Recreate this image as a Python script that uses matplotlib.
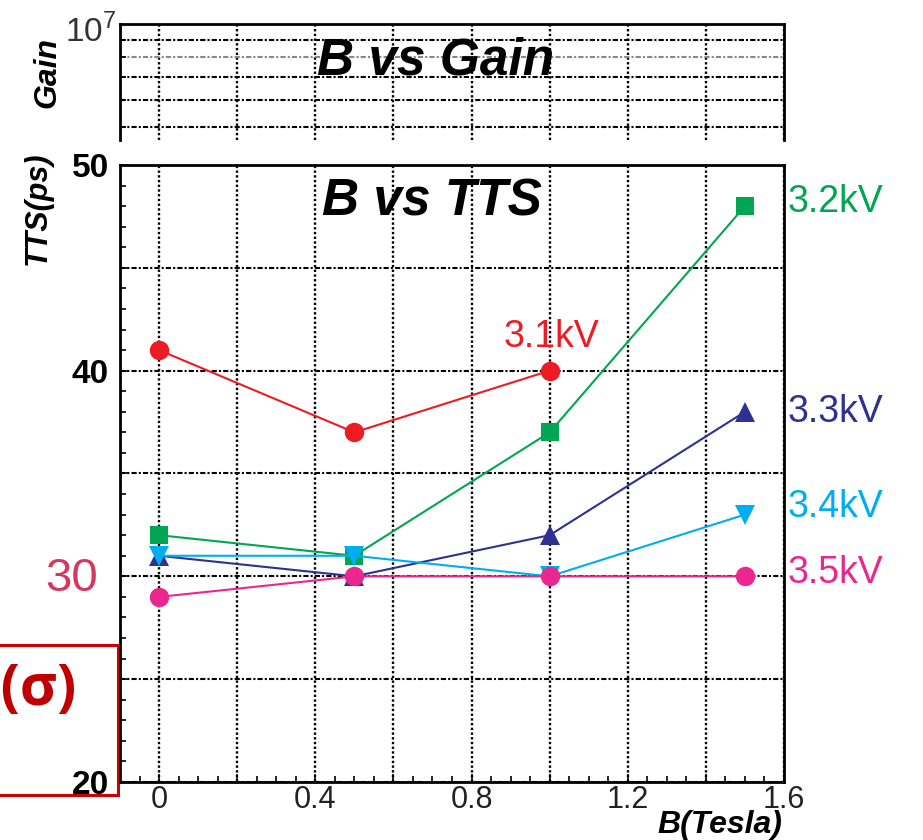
import matplotlib
matplotlib.use("Agg")
import matplotlib.pyplot as plt
from matplotlib.patches import Rectangle
from matplotlib.ticker import MultipleLocator, FixedLocator, FuncFormatter, NullFormatter

plt.rcParams["font.family"] = ["Liberation Sans", "DejaVu Sans"]
plt.rcParams["mathtext.fontset"] = "custom"
plt.rcParams["mathtext.rm"] = "Liberation Sans"

# data
field_T = [0.0, 0.5, 1.0, 1.5]
tts_31 = [41, 37, 40]
tts_32 = [32, 31, 37, 48]
tts_33 = [31, 30, 32, 38]
tts_34 = [31, 31, 30, 33]
tts_35 = [29, 30, 30, 30]
hv_labels = ["3.1kV", "3.2kV", "3.3kV", "3.4kV", "3.5kV"]

W, H = 923, 840
fig = plt.figure(figsize=(W / 100, H / 100), dpi=100)
ax = fig.add_axes([120 / W, 58 / H, 664 / W, 617 / H])
ax_top = fig.add_axes([120 / W, 700 / H, 664 / W, 116 / H])

grid_v = dict(color="black", linestyle=(0, (1, 1)), linewidth=1.7)
grid_h = dict(color="black", linestyle=(0, (2.5, 1, 1, 1)), linewidth=1.5)

# ---- main panel: B vs TTS
series = [
    (tts_31, "#ed1c24", "o", 14, (2, 34), "center"),
    (tts_32, "#00a651", "s", 13, (43, 4), "left"),
    (tts_33, "#2e3192", "^", 14, (43, 0), "left"),
    (tts_34, "#00aeef", "v", 14, (43, 8), "left"),
    (tts_35, "#ec268f", "o", 14, (43, 3), "left"),
]
for (vals, col, mk, ms, off, ha), lab in zip(series, hv_labels):
    xs = field_T[:len(vals)]
    ax.plot(xs, vals, color=col, marker=mk, markersize=ms, linewidth=1.5,
            markeredgewidth=0, zorder=3)
    ax.annotate(lab, xy=(xs[-1], vals[-1]), xytext=off,
                textcoords="offset pixels", ha=ha, va="center",
                fontsize=27, color=col, annotation_clip=False)

ax.set_xlim(-0.1, 1.6)
ax.set_ylim(20, 50)
ax.xaxis.set_major_locator(MultipleLocator(0.2))
ax.xaxis.set_minor_locator(MultipleLocator(0.05))
ax.yaxis.set_major_locator(MultipleLocator(5))
ax.yaxis.set_minor_locator(MultipleLocator(1))


def xfmt(v, pos):
    k = v / 0.4
    if abs(k - round(k)) > 1e-6:
        return ""
    return "0" if abs(v) < 1e-9 else f"{v:.1f}"


def yfmt(v, pos):
    if abs(v % 10) > 1e-6 or abs(v - 30) < 1e-6:
        return ""
    return f"{v:.0f}"


ax.xaxis.set_major_formatter(FuncFormatter(xfmt))
ax.yaxis.set_major_formatter(FuncFormatter(yfmt))
ax.tick_params(which="both", direction="in", top=False, right=False)
ax.tick_params(which="major", length=6, width=1.2)
ax.tick_params(which="minor", length=4, width=1.2)
ax.tick_params(axis="x", labelsize=22, pad=2, labelcolor="#222222")
ax.tick_params(axis="y", labelsize=24, pad=8)
for t in ax.get_yticklabels():
    t.set_fontweight("bold")
ax.xaxis.grid(True, **grid_v)
ax.yaxis.grid(True, **grid_h)
for sp in ax.spines.values():
    sp.set_linewidth(2)

# the "30" label is set apart in the original
ax.annotate("30", xy=(-0.073, 30), xycoords=ax.get_yaxis_transform(),
            xytext=(0, -3), textcoords="offset pixels", ha="center",
            va="center", fontsize=34, color="#d6375f",
            family=["Liberation Sans Narrow", "Liberation Sans"])

fig.text(432 / W, 1 - 202 / H, "B vs TTS", ha="center", va="center",
         fontsize=37, style="italic", weight="bold")
fig.text(38 / W, 1 - 208 / H, "TTS(ps)", rotation=90, ha="center", va="center",
         fontsize=22, style="italic", weight="bold")
fig.text(782 / W, 7 / H, "B(Tesla)", ha="right", va="baseline",
         fontsize=23, style="italic", weight="bold")

# ---- top panel: B vs Gain (cropped log axis)
ax_top.set_yscale("log")
ax_top.set_ylim(4.58e6, 1e7)
ax_top.set_xlim(-0.1, 1.6)
ax_top.xaxis.set_major_locator(MultipleLocator(0.2))
ax_top.yaxis.set_major_locator(FixedLocator([1e7]))
ax_top.yaxis.set_major_formatter(NullFormatter())
ax_top.yaxis.set_minor_locator(FixedLocator([5e6, 6e6, 7e6, 8e6, 9e6]))
ax_top.yaxis.set_minor_formatter(NullFormatter())
ax_top.tick_params(which="both", direction="in", top=False, right=False,
                   bottom=False, labelbottom=False)
ax_top.tick_params(axis="y", which="major", length=0)
ax_top.tick_params(axis="y", which="minor", length=4, width=1.2)
ax_top.xaxis.grid(True, **grid_v)
ax_top.yaxis.grid(True, which="minor", **grid_h)
ax_top.spines["bottom"].set_visible(False)
for sp in ("top", "left", "right"):
    ax_top.spines[sp].set_linewidth(2)
# the 8e6 line is fainter in the original
ax_top.yaxis.get_minor_ticks()[3].gridline.set_color("#888888")

fig.text(116 / W, 1 - 31 / H, r"$10^{7}$", ha="right", va="center",
         fontsize=24, color="#333333")
fig.text(436 / W, 1 - 61 / H, "B vs Gain", ha="center", va="center",
         fontsize=37, style="italic", weight="bold")
fig.text(47 / W, 1 - 73 / H, "Gain", rotation=90, ha="center", va="center",
         fontsize=23, style="italic", weight="bold")

# ---- red boxed label at the bottom left (cut by the left edge, as in the original)
fig.add_artist(Rectangle((-0.02, 45 / H), 118 / W + 0.02, 150 / H,
                         transform=fig.transFigure, fill=False,
                         edgecolor="#cc0000", linewidth=2.2, zorder=0))
fig.text(77 / W, 1 - 690 / H, "TTS(σ)", ha="right", va="center",
         fontsize=41, weight="bold", color="#c00000",
         family=["Open Sans", "DejaVu Sans"])

fig.savefig("out.png", dpi=100)
